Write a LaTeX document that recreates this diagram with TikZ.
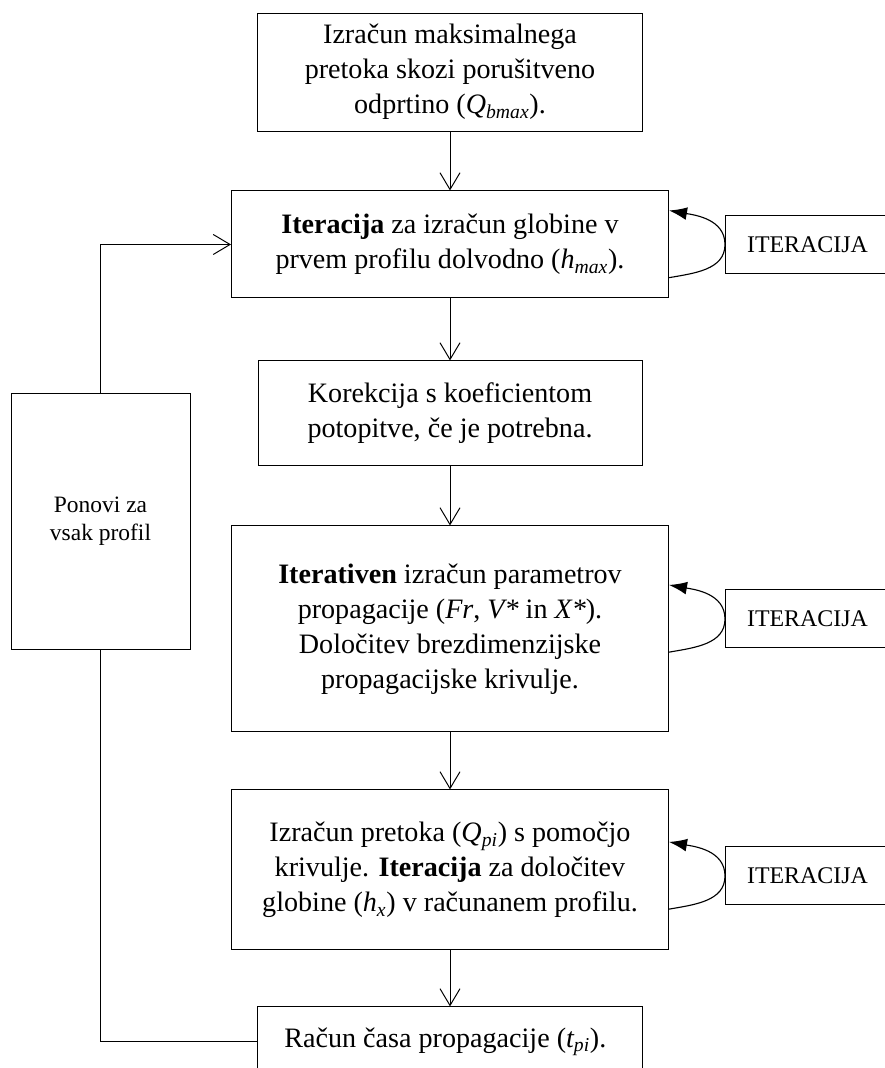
\documentclass[tikz,border=0pt]{standalone}
\usepackage{fontspec}
\setmainfont{Liberation Serif}
\usetikzlibrary{arrows, arrows.meta, positioning, calc}

\begin{document}
\begin{tikzpicture}[
  box/.style={draw, line width=0.7pt, align=center, font=\fontsize{20}{24.9}\selectfont},
  itbox/.style={draw, line width=0.7pt, minimum width=4.1cm, minimum height=1.45cm, font=\fontsize{17}{19.9}\selectfont},
  flow/.style={-{Straight Barb[length=0.42cm,width=0.5cm]}, line width=0.7pt},
  back/.style={-{Latex[length=0.45cm,width=0.32cm]}, line width=0.8pt}
]
  \useasboundingbox (0,0) rectangle (22.1,-26.7);

  % Main chain of steps
  \node[box, minimum width=9.625cm, minimum height=2.95cm] (b1) at (11.25,-1.8) {
    Izračun maksimalnega\\ pretoka skozi porušitveno\\ odprtino (\textit{Q\textsubscript{bmax}}).
  };
  \node[box, minimum width=10.925cm, minimum height=2.675cm, below=1.475cm of b1] (b2) {
    \textbf{Iteracija} za izračun globine v\\ prvem profilu dolvodno (\textit{h\textsubscript{max}}).
  };
  \node[box, minimum width=9.6cm, minimum height=2.625cm, below=1.55cm of b2] (b3) {
    Korekcija s koeficientom\\ potopitve, če je potrebna.
  };
  \node[box, minimum width=10.925cm, minimum height=5.15cm, below=1.475cm of b3] (b4) {
    \textbf{Iterativen} izračun parametrov\\ propagacije (\textit{Fr}, \textit{V*} in \textit{X*}).\\
    Določitev brezdimenzijske\\ propagacijske krivulje.
  };
  \node[box, minimum width=10.925cm, minimum height=4.0cm, below=1.425cm of b4] (b5) {
    Izračun pretoka (\textit{Q\textsubscript{pi}}) s pomočjo\\ krivulje. \textbf{Iteracija} za določitev\\
    globine (\textit{h\textsubscript{x}}) v računanem profilu.
  };
  \node[box, minimum width=9.625cm, minimum height=1.75cm, below=1.4cm of b5] (b6) {
    Račun časa propagacije (\textit{t\textsubscript{pi}}).
  };

  \draw[flow] (b1) -- (b2);
  \draw[flow] (b2) -- (b3);
  \draw[flow] (b3) -- (b4);
  \draw[flow] (b4) -- (b5);
  \draw[flow] (b5) -- (b6);

  % Iteration loops on the right
  \node[itbox, right=1.4cm of b2] (it1) {ITERACIJA};
  \node[itbox, right=1.4cm of b4, yshift=0.25cm] (it2) {ITERACIJA};
  \node[itbox, right=1.4cm of b5, yshift=-0.15cm] (it3) {ITERACIJA};

  \draw[back] (it1.west) to[out=90, in=-10] ($(it1.west -| b2.east)+(0,0.85)$);
  \draw[line width=0.8pt] (it1.west) to[out=-90, in=10] ($(it1.west -| b2.east)+(0,-0.83)$);
  \draw[back] (it2.west) to[out=90, in=-10] ($(it2.west -| b4.east)+(0,0.85)$);
  \draw[line width=0.8pt] (it2.west) to[out=-90, in=10] ($(it2.west -| b4.east)+(0,-0.83)$);
  \draw[back] (it3.west) to[out=90, in=-10] ($(it3.west -| b5.east)+(0,0.85)$);
  \draw[line width=0.8pt] (it3.west) to[out=-90, in=10] ($(it3.west -| b5.east)+(0,-0.83)$);

  % Repeat for every profile
  \node[box, font=\fontsize{16.7}{19.9}\selectfont, minimum width=4.475cm, minimum height=6.4cm] (rep) at (2.5125,-13.025) {
    Ponovi za\\ vsak profil
  };
  \draw[line width=0.7pt] (b6.west) -| (rep.south);
  \draw[flow] (rep.north) |- (b2.west);

\end{tikzpicture}
\end{document}
